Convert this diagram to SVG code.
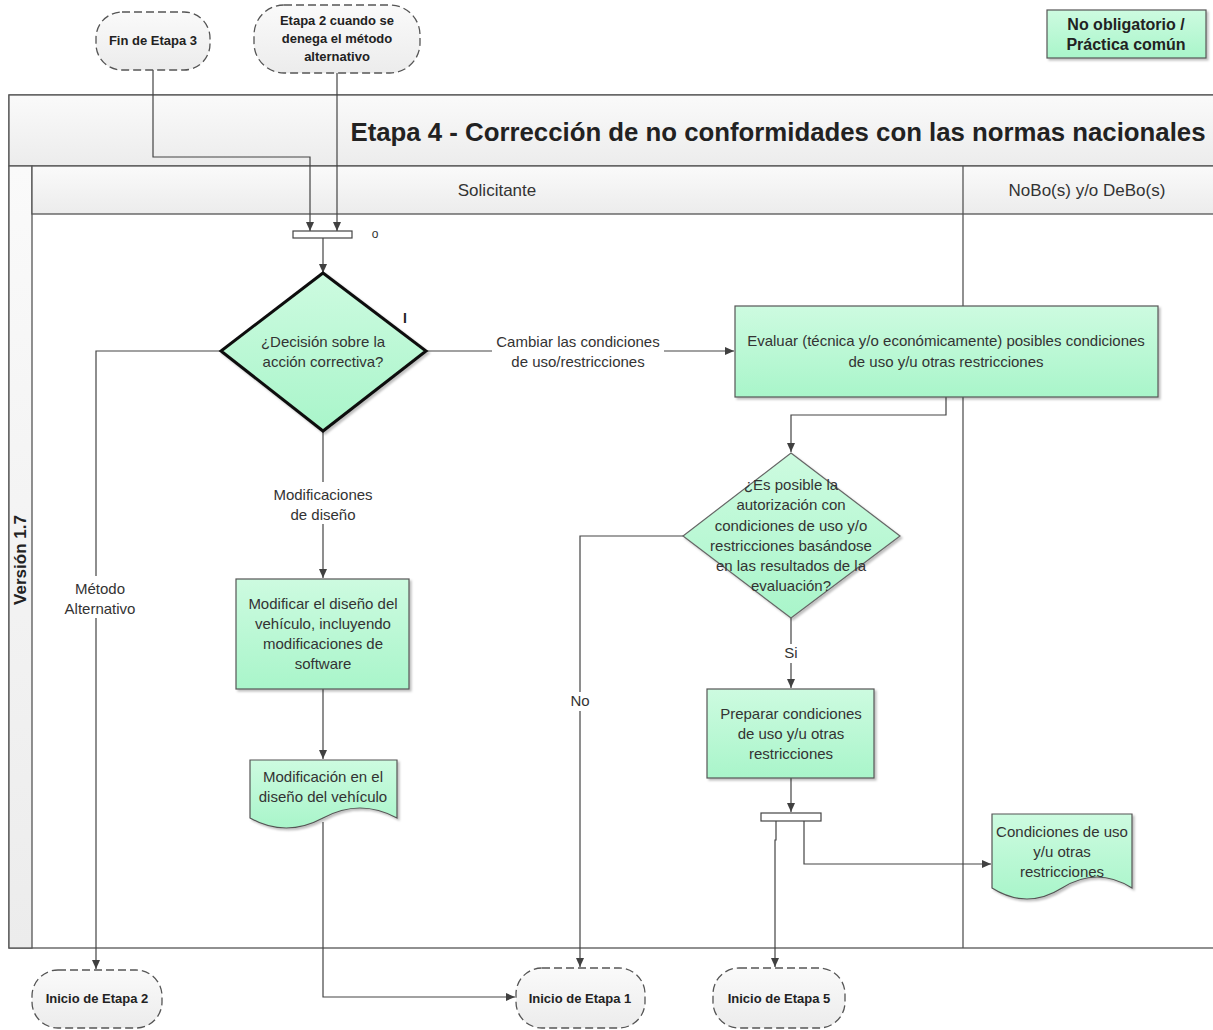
<svg xmlns="http://www.w3.org/2000/svg" width="1213" height="1030" viewBox="0 0 1213 1030">
<defs>
<linearGradient id="gf" x1="0" y1="0" x2="0" y2="1"><stop offset="0" stop-color="#cdfbe0"/><stop offset="1" stop-color="#a9f5ca"/></linearGradient>
<linearGradient id="gg" x1="0" y1="0" x2="0" y2="1"><stop offset="0" stop-color="#fafafa"/><stop offset="1" stop-color="#ececec"/></linearGradient>
<filter id="sh" x="-10%" y="-10%" width="130%" height="130%"><feDropShadow dx="2" dy="2" stdDeviation="1" flood-color="#000" flood-opacity="0.25"/></filter>
<marker id="ar" markerWidth="10" markerHeight="10" refX="9" refY="5" orient="auto" markerUnits="userSpaceOnUse"><path d="M0,1 L9,5 L0,9 Z" fill="#404040"/></marker>
<style>
text{font-family:"Liberation Sans",Arial,sans-serif;fill:#333;}
.t{font-size:15px;text-anchor:middle;}
.b{font-size:13px;font-weight:bold;text-anchor:middle;fill:#222;}
.l{font-size:15px;text-anchor:middle;fill:#333;}
.proc{fill:url(#gf);stroke:#555;stroke-width:1.2;filter:url(#sh);}
.term{fill:url(#gg);stroke:#555;stroke-width:1.3;stroke-dasharray:8,4;}
.c{fill:none;stroke:#444;stroke-width:1.2;}
.ca{fill:none;stroke:#444;stroke-width:1.2;marker-end:url(#ar);}
.bar{fill:#fff;stroke:#444;stroke-width:1.2;}
</style>
</defs>

<g id="pool">
<rect x="9" y="95" width="1210" height="853" fill="#fff" stroke="#555" stroke-width="1.3"/>
<rect x="9" y="95" width="1210" height="71" fill="url(#gg)" stroke="#555" stroke-width="1.3"/>
<rect x="9" y="166" width="23" height="782" fill="url(#gg)" stroke="#555" stroke-width="1.3"/>
<rect x="32" y="166" width="1187" height="48" fill="url(#gg)" stroke="#555" stroke-width="1.3"/>
<line x1="963" y1="166" x2="963" y2="948" stroke="#555" stroke-width="1.3"/>
<text x="778" y="141" style="font-size:25px;font-weight:bold;text-anchor:middle;fill:#222;" textLength="855" lengthAdjust="spacingAndGlyphs">Etapa 4 - Corrección de no conformidades con las normas nacionales</text>
<text x="497" y="196" style="font-size:17px;text-anchor:middle;">Solicitante</text>
<text x="1087" y="196" style="font-size:17px;text-anchor:middle;">NoBo(s) y/o DeBo(s)</text>
<text transform="translate(26,560) rotate(-90)" style="font-size:17px;font-weight:bold;text-anchor:middle;fill:#222;">Versión 1.7</text>
</g>

<g id="connectors">
<polyline class="ca" points="153,70 153,157 310,157 310,231"/>
<line class="ca" x1="337" y1="73" x2="337" y2="231"/>
<line class="ca" x1="323" y1="238" x2="323" y2="273"/>
<polyline class="ca" points="221,351 96,351 96,969"/>
<line class="ca" x1="426" y1="351" x2="734" y2="351"/>
<line class="ca" x1="323" y1="431" x2="323" y2="578"/>
<line class="ca" x1="323" y1="689" x2="323" y2="759"/>
<polyline class="ca" points="323,822 323,997 515,997"/>
<polyline class="ca" points="946,397 946,415 791,415 791,452"/>
<polyline class="ca" points="683,536 580,536 580,967"/>
<line class="ca" x1="791" y1="618" x2="791" y2="688"/>
<line class="ca" x1="791" y1="778" x2="791" y2="812"/>
<polyline class="ca" points="776,821 776,840 775,840 775,967"/>
<polyline class="ca" points="804,821 804,864 991,864"/>
<rect x="58" y="576" width="84" height="42" fill="#fff"/>
<text class="l" x="100" y="594">Método</text>
<text class="l" x="100" y="614">Alternativo</text>
<rect x="492" y="329" width="172" height="42" fill="#fff"/>
<text class="l" x="578" y="347">Cambiar las condiciones</text>
<text class="l" x="578" y="367">de uso/restricciones</text>
<rect x="264" y="482" width="118" height="42" fill="#fff"/>
<text class="l" x="323" y="500">Modificaciones</text>
<text class="l" x="323" y="520">de diseño</text>
<rect x="567" y="692" width="26" height="19" fill="#fff"/>
<text class="l" x="580" y="706">No</text>
<rect x="780" y="644" width="22" height="19" fill="#fff"/>
<text class="l" x="791" y="658">Si</text>
<text x="375" y="238" style="font-size:12px;text-anchor:middle;">o</text>
<text x="405" y="323" style="font-size:14px;font-weight:bold;text-anchor:middle;fill:#222;">I</text>
</g>

<g id="bar1"><rect class="bar" x="293" y="231" width="59" height="7"/></g>
<g id="bar2"><rect class="bar" x="761" y="813" width="60" height="8"/></g>

<g id="fin-etapa3">
<rect class="term" x="96" y="12" width="114" height="58" rx="26"/>
<text class="b" x="153" y="45">Fin de Etapa 3</text>
</g>
<g id="etapa2-denega">
<rect class="term" x="254" y="5" width="166" height="68" rx="30"/>
<text class="b" x="337" y="25">Etapa 2 cuando se</text>
<text class="b" x="337" y="43">denega el método</text>
<text class="b" x="337" y="61">alternativo</text>
</g>
<g id="leyenda">
<rect class="proc" x="1047" y="10" width="159" height="48"/>
<text x="1126" y="30" style="font-size:16px;font-weight:bold;text-anchor:middle;fill:#222;">No obligatorio /</text>
<text x="1126" y="50" style="font-size:16px;font-weight:bold;text-anchor:middle;fill:#222;">Práctica común</text>
</g>

<g id="decision1">
<polygon points="323,273 426,351 323,431 221,351" fill="url(#gf)" stroke="#111" stroke-width="3" filter="url(#sh)"/>
<text class="t" x="323" y="347">¿Decisión sobre la</text>
<text class="t" x="323" y="367">acción correctiva?</text>
</g>

<g id="evaluar">
<rect class="proc" x="735" y="306" width="423" height="91"/>
<text class="t" x="946" y="346">Evaluar (técnica y/o económicamente) posibles condiciones</text>
<text class="t" x="946" y="367">de uso y/u otras restricciones</text>
</g>

<g id="decision2">
<polygon points="791,453 900,536 791,618 683,536" fill="url(#gf)" stroke="#666" stroke-width="1.2" filter="url(#sh)"/>
<text class="t" x="791" y="490">¿Es posible la</text>
<text class="t" x="791" y="510">autorización con</text>
<text class="t" x="791" y="531">condiciones de uso y/o</text>
<text class="t" x="791" y="551">restricciones basándose</text>
<text class="t" x="791" y="571">en las resultados de la</text>
<text class="t" x="791" y="591">evaluación?</text>
</g>

<g id="modificar">
<rect class="proc" x="236" y="579" width="173" height="110"/>
<text class="t" x="323" y="609">Modificar el diseño del</text>
<text class="t" x="323" y="629">vehículo, incluyendo</text>
<text class="t" x="323" y="649">modificaciones de</text>
<text class="t" x="323" y="669">software</text>
</g>

<g id="doc-modificacion">
<path class="proc" d="M250,760 H397 V818 Q360,798 323,818 T250,818 Z"/>
<text class="t" x="323" y="782">Modificación en el</text>
<text class="t" x="323" y="802">diseño del vehículo</text>
</g>

<g id="preparar">
<rect class="proc" x="707" y="689" width="167" height="89"/>
<text class="t" x="791" y="719">Preparar condiciones</text>
<text class="t" x="791" y="739">de uso y/u otras</text>
<text class="t" x="791" y="759">restricciones</text>
</g>

<g id="doc-condiciones">
<path class="proc" d="M992,814 H1132 V888 Q1097,866 1062,888 T992,888 Z"/>
<text class="t" x="1062" y="837">Condiciones de uso</text>
<text class="t" x="1062" y="857">y/u otras</text>
<text class="t" x="1062" y="877">restricciones</text>
</g>

<g id="inicio-etapa2">
<rect class="term" x="32" y="970" width="130" height="58" rx="26"/>
<text class="b" x="97" y="1003">Inicio de Etapa 2</text>
</g>
<g id="inicio-etapa1">
<rect class="term" x="516" y="968" width="129" height="60" rx="26"/>
<text class="b" x="580" y="1003">Inicio de Etapa 1</text>
</g>
<g id="inicio-etapa5">
<rect class="term" x="713" y="968" width="132" height="60" rx="26"/>
<text class="b" x="779" y="1003">Inicio de Etapa 5</text>
</g>
</svg>
